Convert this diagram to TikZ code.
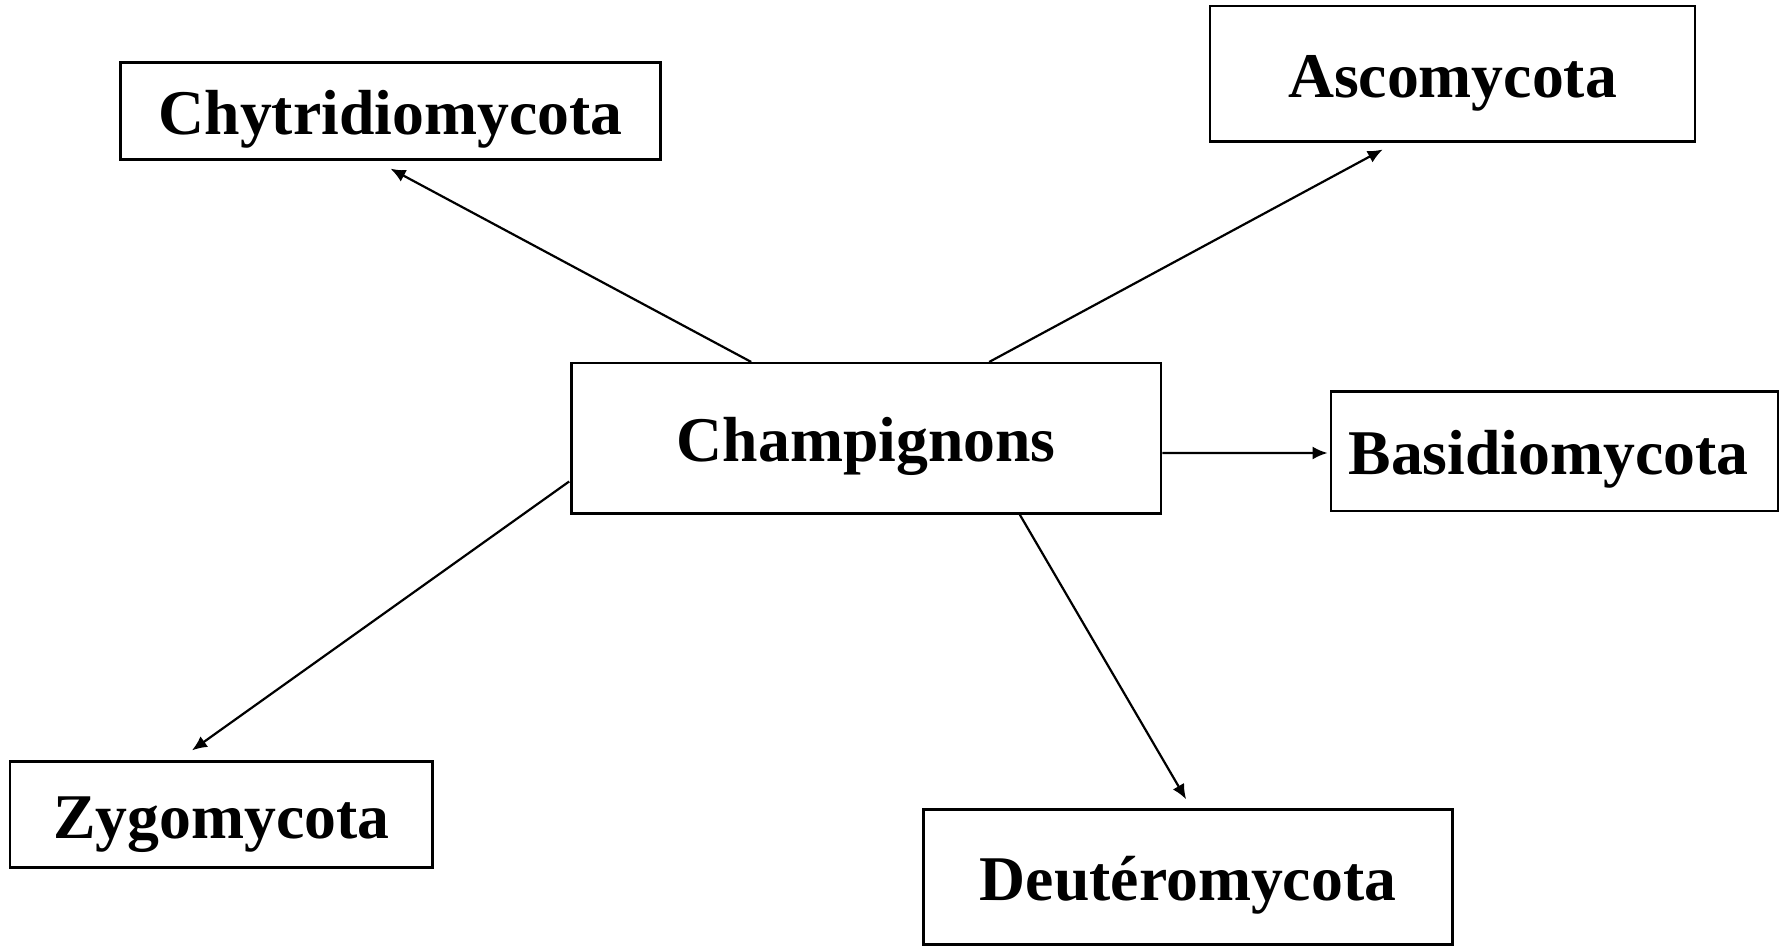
\documentclass[tikz,border=0pt]{standalone}
\usepackage{fontspec}
\setmainfont{Liberation Serif}
\usetikzlibrary{arrows.meta,calc}
\begin{document}
\begin{tikzpicture}[x=1pt,y=-1pt,
  box/.style={draw, line width=2.5pt, inner sep=0pt, text height=47pt, text depth=0pt,
    font=\bfseries\fontsize{63.7}{76}\selectfont},
  conn/.style={line width=2.2pt, -{Latex[length=15pt,width=13pt]}}]
\useasboundingbox (0,0) rectangle (1785,946);
\node[box, minimum width=539.6pt, minimum height=96.8pt] (chy) at (390.5,111) {Chytridiomycota};
\node[box, minimum width=485pt, minimum height=135.5pt] (asc) at (1452.5,73.5) {Ascomycota};
\node[box, minimum width=589.7pt, minimum height=150.2pt] (champ) at (866.3,438.3) {Champignons};
\node[box, minimum width=447.4pt, minimum height=119.5pt] (bas) at (1554.5,451.4) {\hspace*{-12pt}Basidiomycota};
\node[box, minimum width=422.4pt, minimum height=105.9pt] (zyg) at (221.4,814.6) {Zygomycota};
\node[box, minimum width=529.3pt, minimum height=135pt] (deu) at (1188,877) {Deutéromycota};
\draw[conn] ($(champ.north west)+(181,0)$) -- ($(chy.south)+(0,8)$);
\draw[conn] ($(champ.north west)+(419,0)$) -- ($(asc.south west)+(174,7)$);
\draw[conn] ($(champ.north east)+(0,91)$) -- ($(bas.north west)+(-2,62.6)$);
\draw[conn] ($(champ.north west)+(-1,119.5)$) -- ($(zyg.north west)+(183,-10)$);
\draw[conn] ($(champ.south west)+(449.6,0)$) -- ($(deu.north west)+(264,-9)$);
\end{tikzpicture}
\end{document}
